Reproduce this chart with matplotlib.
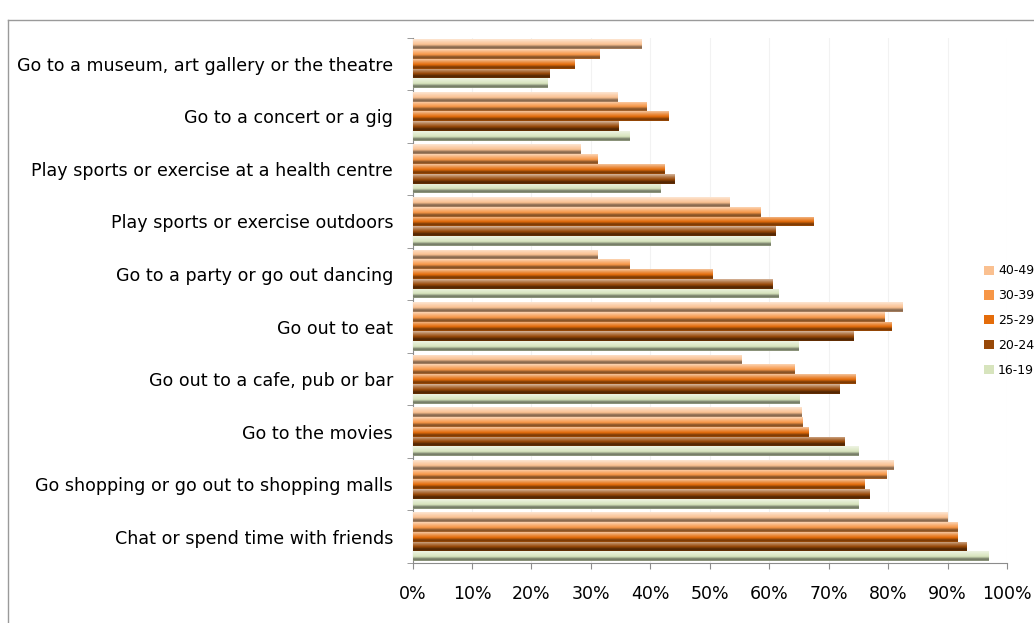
import numpy as np
import matplotlib
matplotlib.use('Agg')
from matplotlib import pyplot as plt
from matplotlib.colors import LinearSegmentedColormap, to_rgb
from matplotlib.lines import Line2D
from matplotlib.patches import Patch

# data
activities = ['Go to a museum, art gallery or the theatre',
              'Go to a concert or a gig',
              'Play sports or exercise at a health centre',
              'Play sports or exercise outdoors',
              'Go to a party or go out dancing',
              'Go out to eat',
              'Go out to a cafe, pub or bar',
              'Go to the movies',
              'Go shopping or go out to shopping malls',
              'Chat or spend time with friends']
age_groups = ['40-49', '30-39', '25-29', '20-24', '16-19']
v40_49 = [38.4, 34.4, 28.2, 53.2, 31.1, 82.3, 55.3, 65.4, 80.9, 89.9]
v30_39 = [31.4, 39.2, 31.1, 58.4, 36.4, 79.3, 64.2, 65.5, 79.6, 91.6]
v25_29 = [27.2, 42.9, 42.3, 67.3, 50.4, 80.5, 74.5, 66.5, 76.0, 91.6]
v20_24 = [23.0, 34.5, 44.0, 61.0, 60.5, 74.1, 71.7, 72.6, 76.7, 93.1]
v16_19 = [22.6, 36.4, 41.6, 60.1, 61.5, 64.9, 65.0, 74.9, 74.9, 96.8]
series = [v40_49, v30_39, v25_29, v20_24, v16_19]
colors = ['#FAC090', '#F79646', '#E46C0A', '#984807', '#D7E4BD']
xticks = np.arange(0, 101, 10)


def mix(c, f):
    c = np.array(to_rgb(c))
    if f >= 0:
        return tuple(c + (1 - c) * f)
    return tuple(c * (1 + f))


fig = plt.figure(figsize=(10.34, 6.23), dpi=100)
ax = fig.add_axes([0.399, 0.0963, 0.575, 0.8435])

y = np.arange(len(activities))
h = 0.186
grad = np.linspace(0, 1, 64).reshape(-1, 1)
handles = []
for k, (vals, col, lab) in enumerate(zip(series, colors, age_groups)):
    pos = y + (k - 2) * h
    bars = ax.barh(pos, vals, height=h, color=col, zorder=2)
    cmap = LinearSegmentedColormap.from_list(
        'g' + lab,
        [(0.0, mix(col, 0.6)), (0.3, mix(col, 0.25)), (0.55, col),
         (0.82, mix(col, -0.5)), (1.0, mix(col, -0.3))])
    for b in bars:
        x0, yb = b.get_x(), b.get_y()
        im = ax.imshow(grad, cmap=cmap, aspect='auto', origin='upper',
                       extent=(x0, x0 + b.get_width(), yb + h, yb),
                       zorder=3, interpolation='bilinear')
        im.set_clip_path(b)
    handles.append(Patch(facecolor=col, label=lab))

ax.set_xlim(0, 100)
ax.set_ylim(len(activities) - 0.5, -0.5)

# axes style
for s in ['top', 'right']:
    ax.spines[s].set_visible(False)
for s in ['left', 'bottom']:
    ax.spines[s].set_color('#8C8C8C')
ax.set_xticks(xticks)
ax.set_xticklabels([f'{t}%' for t in xticks])
ax.tick_params(axis='x', length=4, color='#8C8C8C', pad=12, labelsize=12.5)
ax.set_yticks(y)
ax.set_yticklabels(activities)
ax.tick_params(axis='y', length=0, pad=14, labelsize=12.6)
ax.set_yticks(np.arange(-0.5, len(activities)), minor=True)
ax.tick_params(axis='y', which='minor', length=4, color='#8C8C8C')
ax.grid(axis='x', color='#F2F2F2', linewidth=0.8, zorder=0)
ax.set_axisbelow(True)

fig.legend(handles=handles, loc='center left',
           bbox_to_anchor=(0.941, 1 - 320.7 / 623), frameon=False,
           fontsize=9, handlelength=0.75, handleheight=0.75,
           handletextpad=0.35, labelspacing=0.95)

# chart frame (cropped)
fig.add_artist(Line2D([7.5 / 1034, 7.5 / 1034], [0, 1 - 20 / 623],
                      transform=fig.transFigure, color='#9A9A9A', lw=1))
fig.add_artist(Line2D([7.5 / 1034, 1], [1 - 20 / 623, 1 - 20 / 623],
                      transform=fig.transFigure, color='#9A9A9A', lw=1))

fig.savefig('out.png', dpi=100)
plt.close()
